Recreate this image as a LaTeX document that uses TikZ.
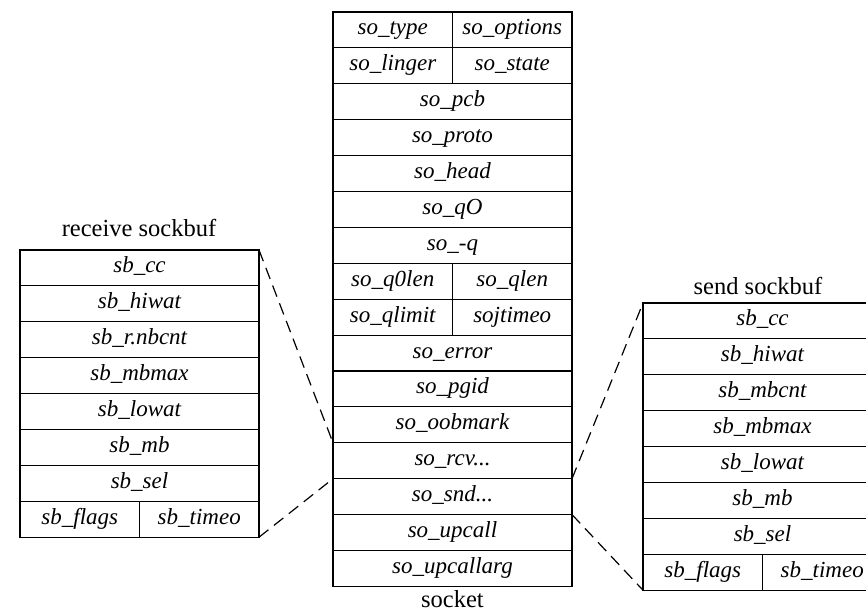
\documentclass[tikz,border=0pt]{standalone}
\usepackage{fontspec}
\setmainfont{Liberation Serif}
\usetikzlibrary{positioning}

\tikzset{
  field/.style={draw, line width=1.1pt, anchor=north west, inner sep=0pt, outer sep=0pt,
    minimum height=35.9pt, minimum width=239pt, text height=15pt, text depth=5pt,
    font=\itshape\fontsize{23}{26}\selectfont},
  halffield/.style={field, minimum width=119.5pt},
  tabletitle/.style={anchor=base, inner sep=0pt, font=\fontsize{24.5}{28}\selectfont},
  expand/.style={line width=1.2pt, dash pattern=on 12pt off 7pt}
}

\begin{document}
\begin{tikzpicture}[x=1pt, y=-1pt]
    \useasboundingbox (0,0) rectangle (866,615);
    \clip (0,0) rectangle (866,615);

    % socket
    \node[halffield] (so-type) at (333,12) {so\_type};
    \node[halffield] (so-options) at (so-type.north east) {so\_options};
    \node[halffield] (so-linger) at (so-type.south west) {so\_linger};
    \node[halffield] (so-state) at (so-linger.north east) {so\_state};
    \node[field] (so-pcb) at (so-linger.south west) {so\_pcb};
    \node[field] (so-proto) at (so-pcb.south west) {so\_proto};
    \node[field] (so-head) at (so-proto.south west) {so\_head};
    \node[field] (so-q0) at (so-head.south west) {so\_qO};
    \node[field] (so-q) at (so-q0.south west) {so\_-q};
    \node[halffield] (so-q0len) at (so-q.south west) {so\_q0len};
    \node[halffield] (so-qlen) at (so-q0len.north east) {so\_qlen};
    \node[halffield] (so-qlimit) at (so-q0len.south west) {so\_qlimit};
    \node[halffield] (so-timeo) at (so-qlimit.north east) {sojtimeo};
    \node[field] (so-error) at (so-qlimit.south west) {so\_error};
    \node[field] (so-pgid) at (so-error.south west) {so\_pgid};
    \node[field] (so-oobmark) at (so-pgid.south west) {so\_oobmark};
    \node[field] (so-rcv) at (so-oobmark.south west) {so\_rcv...};
    \node[field] (so-snd) at (so-rcv.south west) {so\_snd...};
    \node[field] (so-upcall) at (so-snd.south west) {so\_upcall};
    \node[field] (so-upcallarg) at (so-upcall.south west) {so\_upcallarg};
    \node[tabletitle] (socket-title) at (452.5,607) {socket};

    % receive sockbuf
    \node[field] (rb-cc) at (20,250) {sb\_cc};
    \node[field] (rb-hiwat) at (rb-cc.south west) {sb\_hiwat};
    \node[field] (rb-mbcnt) at (rb-hiwat.south west) {sb\_r.nbcnt};
    \node[field] (rb-mbmax) at (rb-mbcnt.south west) {sb\_mbmax};
    \node[field] (rb-lowat) at (rb-mbmax.south west) {sb\_lowat};
    \node[field] (rb-mb) at (rb-lowat.south west) {sb\_mb};
    \node[field] (rb-sel) at (rb-mb.south west) {sb\_sel};
    \node[halffield] (rb-flags) at (rb-sel.south west) {sb\_flags};
    \node[halffield] (rb-timeo) at (rb-flags.north east) {sb\_timeo};
    \node[tabletitle] (rb-title) at (139,236) {receive sockbuf};

    % send sockbuf
    \node[field] (sb-cc) at (643,303) {sb\_cc};
    \node[field] (sb-hiwat) at (sb-cc.south west) {sb\_hiwat};
    \node[field] (sb-mbcnt) at (sb-hiwat.south west) {sb\_mbcnt};
    \node[field] (sb-mbmax) at (sb-mbcnt.south west) {sb\_mbmax};
    \node[field] (sb-lowat) at (sb-mbmax.south west) {sb\_lowat};
    \node[field] (sb-mb) at (sb-lowat.south west) {sb\_mb};
    \node[field] (sb-sel) at (sb-mb.south west) {sb\_sel};
    \node[halffield] (sb-flags) at (sb-sel.south west) {sb\_flags};
    \node[halffield] (sb-timeo) at (sb-flags.north east) {sb\_timeo};
    \node[tabletitle] (sb-title) at (758,294) {send sockbuf};

    % expansions
    \draw[expand] (rb-cc.north east) -- (so-rcv.north west);
    \draw[expand] (rb-timeo.south east) -- (so-rcv.south west);
    \draw[expand] (so-snd.north east) -- (sb-cc.north west);
    \draw[expand] (so-snd.south east) -- (sb-flags.south west);
\end{tikzpicture}
\end{document}
